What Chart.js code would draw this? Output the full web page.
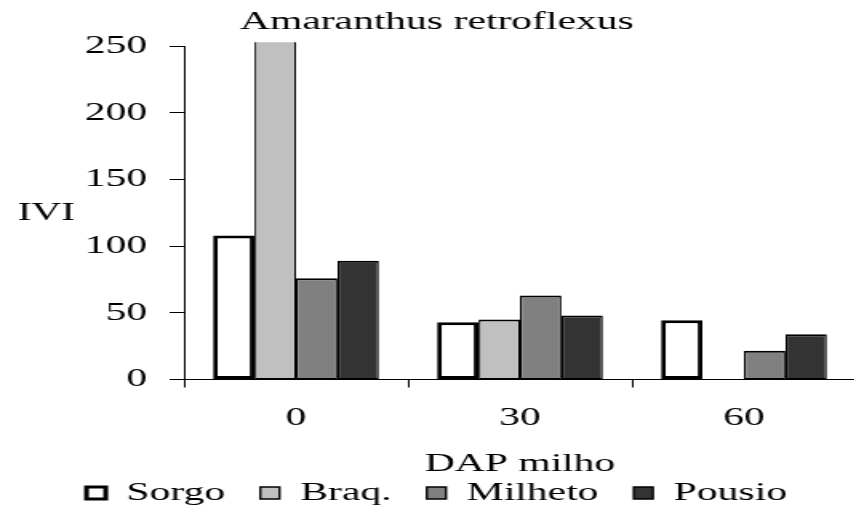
<!DOCTYPE html>
<html>
<head>
<meta charset="utf-8">
<script src="https://cdn.jsdelivr.net/npm/chart.js@4.4.1/dist/chart.umd.min.js"></script>
<style>
  html, body { margin: 0; padding: 0; background: #fff; overflow: hidden; }
  /* the original figure is stretched sideways, so the canvas is too */
  #wrap { width: 535px; height: 509px; transform: scaleX(1.6); transform-origin: 0 0; }
</style>
</head>
<body>
<div id="wrap"><canvas id="chart" width="535" height="509"></canvas></div>
<script>
const categories = ['0', '30', '60'];
const sorgo = [108, 43, 44.5];
const braq = [270, 45, 0];      // first bar runs off the top of the axis
const milheto = [76, 63, 21.5];
const pousio = [89, 48, 34];
const yTicks = [0, 50, 100, 150, 200, 250];

Chart.defaults.font.family = "'Liberation Serif', 'Times New Roman', serif";
Chart.defaults.font.size = 26;
Chart.defaults.color = '#000';

const thin = { top: 2, bottom: 1, left: 1.25, right: 1.25 };
const topClip = { left: false, top: 4, right: false, bottom: false };

const serie = (label, data, fill, border) => ({
  label: label,
  data: data,
  backgroundColor: fill,
  borderColor: '#000',
  borderWidth: border,
  borderSkipped: false,
  clip: topClip
});

new Chart(document.getElementById('chart'), {
  type: 'bar',
  data: {
    labels: categories,
    datasets: [
      serie('Sorgo', sorgo, '#ffffff', 3),
      serie('Braq.', braq, '#c0c0c0', thin),
      serie('Milheto', milheto, '#808080', thin),
      serie('Pousio', pousio, '#333333', thin)
    ]
  },
  options: {
    responsive: false,
    animation: false,
    devicePixelRatio: 1,
    events: [],
    categoryPercentage: 0.74,
    barPercentage: 1,
    layout: { padding: { left: 11, bottom: 3 } },
    plugins: {
      title: {
        display: true,
        text: 'Amaranthus retroflexus',
        color: '#000',
        font: { size: 26, weight: 'normal' },
        padding: { top: 7, bottom: 8 }
      },
      legend: {
        position: 'bottom',
        maxHeight: 48,
        labels: { boxWidth: 12, boxHeight: 12, padding: 22, color: '#000' }
      },
      tooltip: { enabled: false }
    },
    scales: {
      x: {
        offset: true,
        afterFit: (s) => { s.height = 78.5; },
        grid: { drawOnChartArea: false, tickLength: 8, color: '#000', offset: true },
        border: { color: '#000', width: 1 },
        ticks: { padding: 15, color: '#000' },
        title: { display: true, text: 'DAP milho', color: '#000', padding: { top: 0, bottom: -22 } }
      },
      y: {
        min: yTicks[0],
        max: yTicks[yTicks.length - 1],
        afterBuildTicks: (s) => { s.ticks = yTicks.map(v => ({ value: v })); },
        afterFit: (s) => { s.width = 62; },
        grid: { drawOnChartArea: false, tickLength: 9, color: '#000' },
        border: { color: '#000', width: 1 },
        ticks: { padding: 14, color: '#000' }
      },
      // horizontal "IVI" label sits on its own one-label axis
      yl: {
        type: 'category',
        labels: ['IVI'],
        position: 'left',
        weight: 1,
        offset: true,
        afterFit: (s) => { s.width = 42; },
        grid: { display: false, drawTicks: false },
        border: { display: false },
        ticks: { padding: 6, color: '#000' }
      }
    }
  }
});
</script>
</body>
</html>
